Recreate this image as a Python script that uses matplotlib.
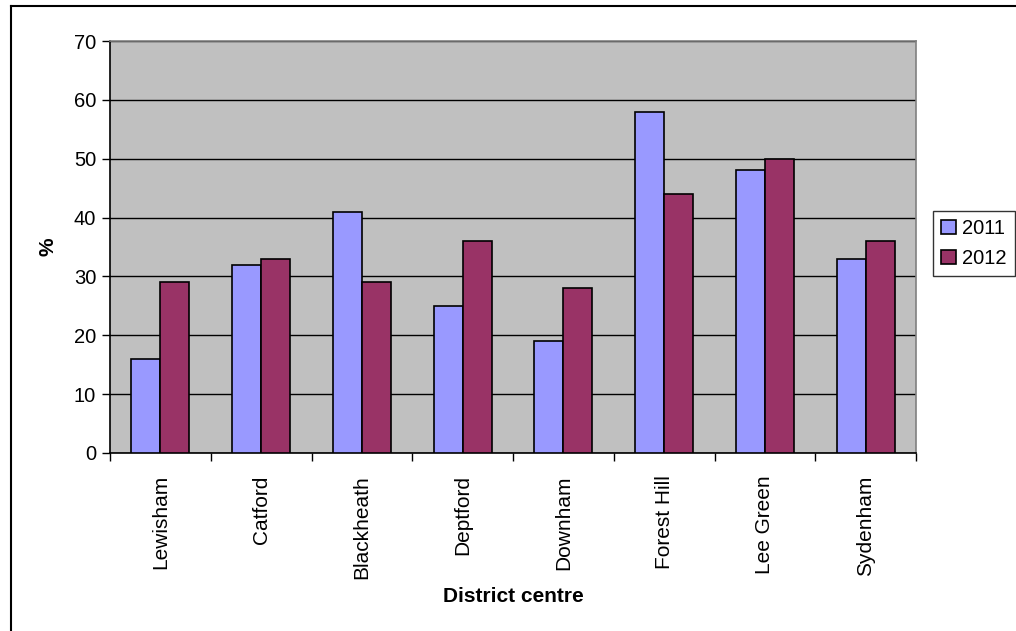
import matplotlib
matplotlib.use("Agg")
import matplotlib.pyplot as plt
import numpy as np

categories = ["Lewisham", "Catford", "Blackheath", "Deptford", "Downham",
              "Forest Hill", "Lee Green", "Sydenham"]
values_2011 = [16, 32, 41, 25, 19, 58, 48, 33]
values_2012 = [29, 33, 29, 36, 28, 44, 50, 36]
series_labels = ["2011", "2012"]
yticks = [0, 10, 20, 30, 40, 50, 60, 70]

plt.rcParams['font.family'] = ['Liberation Sans', 'DejaVu Sans']

fig = plt.figure(figsize=(10.16, 6.31), dpi=100)
ax = fig.add_axes([110/1016, 178/631, 806/1016, 412/631])
ax.set_facecolor('#C0C0C0')

x = np.arange(len(categories))
w = 0.288
ax.bar(x - w/2, values_2011, w, color='#9999FF', edgecolor='black', linewidth=1.2,
       label=series_labels[0], zorder=3)
ax.bar(x + w/2, values_2012, w, color='#993366', edgecolor='black', linewidth=1.2,
       label=series_labels[1], zorder=3)

ax.set_xlim(-0.5, len(categories) - 0.5)
ax.set_ylim(0, 70)
ax.set_yticks(yticks)
ax.set_yticklabels([str(t) for t in yticks], fontsize=14.5)
ax.yaxis.grid(True, color='black', linewidth=1)
ax.set_axisbelow(True)

ax.set_xticks(x)
ax.set_xticklabels(categories, rotation=90, fontsize=15)
ax.set_xticks(np.arange(len(categories) + 1) - 0.5, minor=True)
ax.tick_params(axis='x', which='major', length=0, pad=16)
ax.tick_params(axis='x', which='minor', length=6, width=1, direction='out')
ax.tick_params(axis='y', length=6, width=1, direction='out', pad=4)

for s in ['left', 'bottom']:
    ax.spines[s].set_color('black')
    ax.spines[s].set_linewidth(1.2)
for s in ['top', 'right']:
    ax.spines[s].set_color('#808080')
    ax.spines[s].set_linewidth(1.2)

ax.set_xlabel("District centre", fontsize=15, fontweight='bold', labelpad=6)
ax.set_ylabel("%", fontsize=15, fontweight='bold', labelpad=12)

leg = ax.legend(loc='upper left', bbox_to_anchor=(933/1016, 1 - 211/631),
                bbox_transform=fig.transFigure, fontsize=14.5, frameon=True,
                fancybox=False, edgecolor='black', handlelength=0.75,
                handleheight=0.75, handletextpad=0.3, borderpad=0.4,
                labelspacing=0.55, borderaxespad=0)
leg.get_frame().set_linewidth(1.0)

# outer chart border
fig.add_artist(plt.Line2D([11/1016, 11/1016], [0, 1 - 6/631], transform=fig.transFigure,
                          color='black', linewidth=1.5))
fig.add_artist(plt.Line2D([11/1016, 1], [1 - 6/631, 1 - 6/631], transform=fig.transFigure,
                          color='black', linewidth=1.5))

fig.savefig("out.png", dpi=100)
